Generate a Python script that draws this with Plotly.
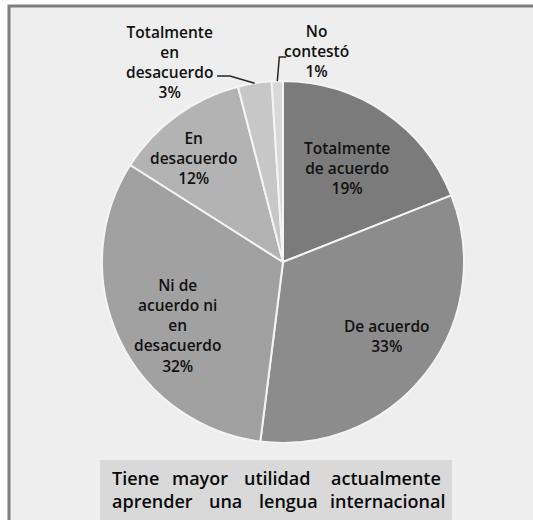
import math
import plotly.graph_objects as go

# Survey answers and their shares (%)
categories = [
    "Totalmente de acuerdo",
    "De acuerdo",
    "Ni de acuerdo ni en desacuerdo",
    "En desacuerdo",
    "Totalmente en desacuerdo",
    "No contestó",
]
values = [19, 33, 32, 12, 3, 1]

# Label text broken into lines, one entry per category
label_lines = [
    ["Totalmente", "de acuerdo"],
    ["De acuerdo"],
    ["Ni de", "acuerdo ni", "en", "desacuerdo"],
    ["En", "desacuerdo"],
    ["Totalmente", "en", "desacuerdo"],
    ["No", "contestó"],
]

title_lines = [
    ["Tiene", "mayor", "utilidad", "actualmente"],
    ["aprender", "una", "lengua", "internacional"],
]

slice_colors = ["#7b7b7b", "#8c8c8c", "#a1a1a1", "#b3b3b3", "#c7c7c7", "#d8d8d8"]

W, H = 533, 520
CX, CY, R = 283, 262, 181  # pie centre and radius in pixels

# label centres (pixels) for each category
label_pos = [(347, 168), (387, 336), (177, 325), (193, 158), (169, 62), (316, 51)]
# word centres (pixels) for the justified caption
title_word_x = [[135, 200, 276.5, 386], [152.5, 225.5, 288.5, 387.5]]
title_line_y = [478, 501]


def px(x, y):
    return x / W, 1 - y / H


fig = go.Figure(
    go.Pie(
        labels=categories,
        values=values,
        sort=False,
        direction="clockwise",
        rotation=0,
        textinfo="none",
        hoverinfo="label+percent",
        marker=dict(colors=slice_colors, line=dict(color="#f4f4f4", width=2)),
        domain=dict(x=[(CX - R) / W, (CX + R) / W], y=[(H - CY - R) / H, (H - CY + R) / H]),
        showlegend=False,
    )
)

shapes = [
    # chart frame
    dict(type="rect", xref="paper", yref="paper", layer="below",
         x0=9 / W, x1=1.05, y0=-0.05, y1=1 - 6 / H,
         fillcolor="#eeeeee", line=dict(color="#7f7f7f", width=3)),
    # caption box
    dict(type="rect", xref="paper", yref="paper", layer="below",
         x0=100 / W, x1=452 / W, y0=-0.05, y1=1 - 460 / H,
         fillcolor="#d9d9d9", line=dict(width=0)),
]

total = sum(values)
annotations = []
cum = 0
for i, (v, lines) in enumerate(zip(values, label_lines)):
    mid = (cum + v / 2) / total * 2 * math.pi
    cum += v
    text = "<br>".join(lines + [f"{v}%"])
    lx, ly = label_pos[i]
    x, y = px(lx, ly)
    annotations.append(dict(x=x, y=y, xref="paper", yref="paper", text=text,
                            showarrow=False, xanchor="center", yanchor="middle",
                            font=dict(family="Open Sans", size=15.5, color="#111111",
                                      weight=600)))
    # leader lines for the two thin slices
    ex, ey = CX + R * math.sin(mid), CY - R * math.cos(mid)
    if i == 4:
        pts = [(217, 76), (230, 76), (ex, ey)]
    elif i == 5:
        pts = [(ex, ey), (ex + 2, 57), (ex + 9, 57)]
    else:
        continue
    path = "M " + " L ".join(f"{px(a, b)[0]},{px(a, b)[1]}" for a, b in pts)
    shapes.append(dict(type="path", xref="paper", yref="paper", path=path,
                       line=dict(color="#262626", width=1.5)))

for words, xs, ly in zip(title_lines, title_word_x, title_line_y):
    for w, wx in zip(words, xs):
        x, y = px(wx, ly)
        annotations.append(dict(x=x, y=y, xref="paper", yref="paper", text=w,
                                showarrow=False, xanchor="center", yanchor="middle",
                                font=dict(family="Open Sans", size=18, color="#0a0a0a",
                                          weight=600)))

fig.update_layout(
    width=W, height=H,
    margin=dict(l=0, r=0, t=0, b=0),
    paper_bgcolor="white",
    plot_bgcolor="white",
    shapes=shapes,
    annotations=annotations,
)

fig.write_html("out.html")
